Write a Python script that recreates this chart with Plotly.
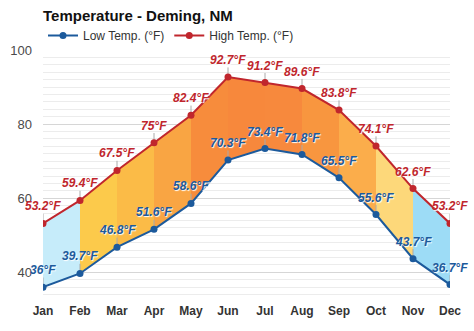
import plotly.graph_objects as go

months = ["Jan", "Feb", "Mar", "Apr", "May", "Jun", "Jul", "Aug", "Sep", "Oct", "Nov", "Dec"]
high_temp = [53.2, 59.4, 67.5, 75.0, 82.4, 92.7, 91.2, 89.6, 83.8, 74.1, 62.6, 53.2]
low_temp = [36.0, 39.7, 46.8, 51.6, 58.6, 70.3, 73.4, 71.8, 65.5, 55.6, 43.7, 36.7]
high_labels = ["53.2°F", "59.4°F", "67.5°F", "75°F", "82.4°F", "92.7°F", "91.2°F", "89.6°F", "83.8°F", "74.1°F", "62.6°F", "53.2°F"]
low_labels = ["36°F", "39.7°F", "46.8°F", "51.6°F", "58.6°F", "70.3°F", "73.4°F", "71.8°F", "65.5°F", "55.6°F", "43.7°F", "36.7°F"]
segment_colors = ["#c6ecfa", "#fcca4b", "#fbbb47", "#f9a543", "#f78c3c", "#f7883c",
                  "#f7893d", "#f8963f", "#fbad4b", "#fdd87a", "#9ddcf6"]

FONT = "Liberation Sans, Arial, sans-serif"
HIGH_C = "#c0262d"
LOW_C = "#1c5a9c"

fig = go.Figure()
idx = list(range(len(months)))

for i in range(len(months) - 1):
    fig.add_trace(go.Scatter(
        x=[i, i + 1, i + 1, i, i],
        y=[low_temp[i], low_temp[i + 1], high_temp[i + 1], high_temp[i], low_temp[i]],
        fill="toself", fillcolor=segment_colors[i], mode="lines",
        line=dict(width=0, color=segment_colors[i]),
        hoverinfo="skip", showlegend=False))

for vals, name, col in [(low_temp, "Low Temp. (°F)", LOW_C), (high_temp, "High Temp. (°F)", HIGH_C)]:
    fig.add_trace(go.Scatter(
        x=idx, y=vals, name=name, mode="lines+markers",
        line=dict(color=col, width=2), marker=dict(color=col, size=7),
        error_y=dict(type="data", symmetric=False, array=[2.6] * len(vals),
                     arrayminus=[0] * len(vals), color="#aaaaaa", thickness=1, width=0)))

for vals, labels, col in [(high_temp, high_labels, HIGH_C), (low_temp, low_labels, LOW_C)]:
    for i, (v, t) in enumerate(zip(vals, labels)):
        fig.add_annotation(
            x=i, y=v, text=t, showarrow=False, yshift=17,
            font=dict(family=FONT, size=12, color=col, weight="bold", style="italic",
                      shadow="1px 1px 1px #ffffff"))

fig.update_layout(
    width=474, height=331,
    margin=dict(l=43, r=24, t=50, b=29, autoexpand=False),
    paper_bgcolor="white", plot_bgcolor="white",
    font=dict(family=FONT, size=12, color="#333333"),
    title=dict(text="<b>Temperature - Deming, NM</b>", x=43 / 474, xanchor="left",
               y=1 - 16 / 331, yanchor="middle", font=dict(size=15, color="#111111")),
    legend=dict(orientation="h", x=0, xanchor="left", y=1.0, yanchor="bottom",
                font=dict(size=12, color="#333333"), itemwidth=30,
                bgcolor="rgba(0,0,0,0)", tracegroupgap=0),
    showlegend=True,
    xaxis=dict(range=[0, 11], tickmode="array", tickvals=idx, ticktext=months,
               showgrid=False, zeroline=False, showline=False, ticks="", automargin=False,
               tickfont=dict(size=12, color="#333333", weight="bold")),
    yaxis=dict(range=[32, 100], tickmode="linear", tick0=0, dtick=20, automargin=False,
               showgrid=True, gridcolor="#d6d6d6", gridwidth=1, zeroline=False,
               ticks="", ticklabelstandoff=10, tickfont=dict(size=13, color="#4a4a4a"),
               minor=dict(dtick=2, tick0=0, showgrid=True, gridcolor="#ececec", gridwidth=1)),
)

fig.write_html("out.html")
